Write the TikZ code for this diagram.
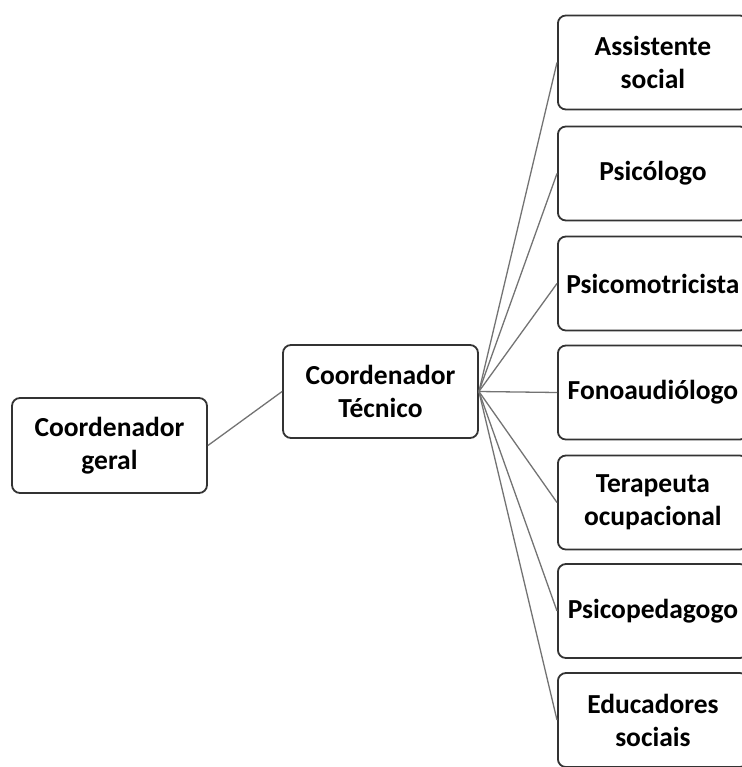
\documentclass[tikz,border=0pt]{standalone}
\usepackage{fontspec}
\setmainfont{Carlito}
\begin{document}
\begin{tikzpicture}[x=1pt,y=-1pt,
  box/.style={draw=black!80,line width=1.8pt,rounded corners=8pt,fill=white,align=center,inner sep=0pt,
    font=\fontsize{27.5}{33}\selectfont\bfseries},
  link/.style={draw=black!55,line width=1.3pt}]
\useasboundingbox (0,0) rectangle (741,767);
\node[box,minimum width=195pt,minimum height=95pt] (cg) at (109.5,445.5) {Coordenador\\geral};
\node[box,minimum width=195pt,minimum height=93pt] (ct) at (380.5,391.5) {Coordenador\\Técnico};
\foreach \n/\y/\t in {a/62.5/{Assistente\\social},b/173.5/{Psicólogo},c/283.5/{Psicomotricista},d/392.5/{Fonoaudiólogo},e/502.5/{Terapeuta\\ocupacional},f/611/{Psicopedagogo},g/720/{Educadores\\sociais}}{
  \node[box,minimum width=190pt,minimum height=94pt,anchor=west] (\n) at (557,\y) {\t};
}
\draw[link] (cg.east) -- (ct.west);
\foreach \n in {a,b,c,d,e,f,g}{
  \draw[link] (ct.east) -- (\n.west);
}
\end{tikzpicture}
\end{document}
